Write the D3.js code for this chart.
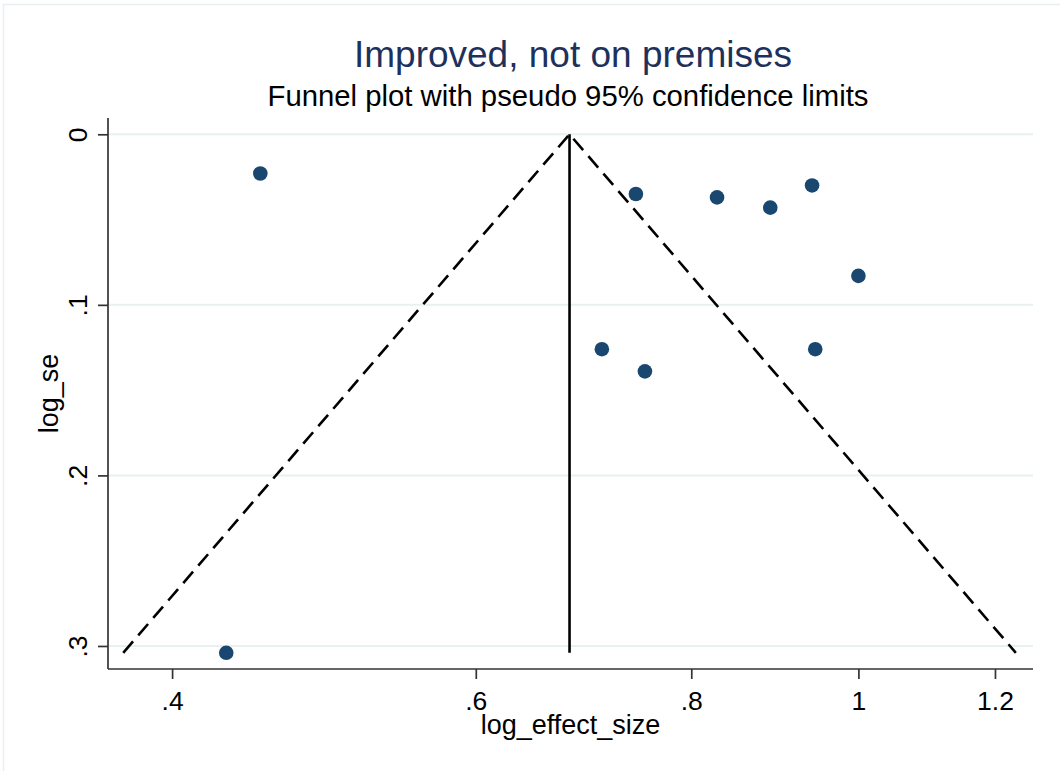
<!DOCTYPE html>
<html>
<head>
<meta charset="utf-8">
<script src="https://cdn.jsdelivr.net/npm/d3@7"></script>
<style>
  html, body { margin: 0; padding: 0; background: #ffffff; }
  svg { display: block; font-family: "Liberation Sans", Arial, sans-serif; }
</style>
</head>
<body>
<svg id="chart" width="1060" height="771"></svg>
<script>
// Study estimates (effect size, shown on a log axis) and their standard errors
const effectSize = [0.450, 0.430, 0.743, 0.828, 0.889, 0.940, 1.000, 0.710, 0.752, 0.944];
const stdError   = [0.023, 0.304, 0.035, 0.037, 0.043, 0.030, 0.083, 0.126, 0.139, 0.126];

// Pooled estimate (apex of the funnel) and the largest standard error
const pooledEffect = 0.680;
const maxStdError = 0.304;

// Axis ticks
const xTickValues = [0.4, 0.6, 0.8, 1, 1.2];
const xTickLabels = [".4", ".6", ".8", "1", "1.2"];
const yTickValues = [0, 0.1, 0.2, 0.3];
const yTickLabels = ["0", ".1", ".2", ".3"];

const titleText = "Improved, not on premises";
const subtitleText = "Funnel plot with pseudo 95% confidence limits";
const xTitle = "log_effect_size";
const yTitle = "log_se";

const svg = d3.select("#chart");
const W = 1060, H = 771;
const plot = { left: 108, right: 1033, top: 118, bottom: 669 };

// outer graph frame
svg.append("rect")
  .attr("x", 3.5).attr("y", 4.5)
  .attr("width", W + 20).attr("height", H + 20)
  .attr("fill", "#ffffff")
  .attr("stroke", "#e8eff1").attr("stroke-width", 1.5);

const x = d3.scaleLog().domain([0.3672, 1.2625]).range([plot.left, plot.right]);
const y = d3.scaleLinear().domain([-0.00955, 0.3135]).range([plot.top, plot.bottom]);

// horizontal gridlines
svg.append("g").selectAll("line")
  .data(yTickValues).join("line")
  .attr("x1", plot.left).attr("x2", plot.right)
  .attr("y1", d => y(d)).attr("y2", d => y(d))
  .attr("stroke", "#e8f0f2").attr("stroke-width", 2);

// y axis: ticks from d3, labels rotated with their baseline toward the axis
const yAxis = d3.axisLeft(y)
  .tickValues(yTickValues)
  .tickFormat((d, i) => yTickLabels[i])
  .tickSize(10);
const gy = svg.append("g").attr("transform", `translate(${plot.left},0)`).call(yAxis);
gy.select(".domain").remove();
gy.append("line")
  .attr("x1", 0).attr("x2", 0).attr("y1", plot.top).attr("y2", plot.bottom)
  .attr("stroke", "#333333").attr("stroke-width", 1.7);
gy.selectAll(".tick line").attr("stroke", "#333333").attr("stroke-width", 1.7);
gy.selectAll(".tick text").remove();
gy.selectAll(".tick").append("text")
  .attr("transform", "translate(-21,0) rotate(-90)")
  .attr("text-anchor", "middle")
  .attr("font-size", 26.5).attr("fill", "#000")
  .text((d, i) => yTickLabels[i]);

// x axis
const xAxis = d3.axisBottom(x)
  .tickValues(xTickValues)
  .tickFormat((d, i) => xTickLabels[i])
  .tickSize(10);
const gx = svg.append("g").attr("transform", `translate(0,${plot.bottom})`).call(xAxis);
gx.select(".domain").remove();
gx.append("line")
  .attr("x1", plot.left).attr("x2", plot.right).attr("y1", 0).attr("y2", 0)
  .attr("stroke", "#333333").attr("stroke-width", 1.7);
gx.selectAll(".tick line").attr("stroke", "#333333").attr("stroke-width", 1.7);
gx.selectAll(".tick text")
  .attr("font-size", 26.5).attr("fill", "#000")
  .attr("y", 41).attr("dy", 0);

// pseudo 95% confidence limits around the pooled estimate
const lowEnd = Math.exp(Math.log(pooledEffect) - 1.96 * maxStdError);
const highEnd = Math.exp(Math.log(pooledEffect) + 1.96 * maxStdError);
const funnel = svg.append("g");
funnel.append("path")
  .attr("d", d3.line()([[x(lowEnd), y(maxStdError)], [x(pooledEffect), y(0)], [x(highEnd), y(maxStdError)]]))
  .attr("fill", "none").attr("stroke", "#000").attr("stroke-width", 2.6)
  .attr("stroke-dasharray", "15,8");
funnel.append("line")
  .attr("x1", x(pooledEffect)).attr("x2", x(pooledEffect))
  .attr("y1", y(0)).attr("y2", y(maxStdError))
  .attr("stroke", "#000").attr("stroke-width", 2.6);

// study points
svg.append("g").selectAll("circle")
  .data(effectSize.map((d, i) => [d, stdError[i]])).join("circle")
  .attr("cx", d => x(d[0])).attr("cy", d => y(d[1]))
  .attr("r", 7.3).attr("fill", "#1a476f");

// titles
svg.append("text")
  .attr("x", 573).attr("y", 67)
  .attr("text-anchor", "middle")
  .attr("font-size", 37).attr("fill", "#1e315c")
  .text(titleText);
svg.append("text")
  .attr("x", 568).attr("y", 106)
  .attr("text-anchor", "middle")
  .attr("font-size", 29.3).attr("fill", "#000")
  .text(subtitleText);
svg.append("text")
  .attr("x", (plot.left + plot.right) / 2).attr("y", 734)
  .attr("text-anchor", "middle")
  .attr("font-size", 27).attr("fill", "#000")
  .text(xTitle);
svg.append("text")
  .attr("transform", `translate(58,${(plot.top + plot.bottom) / 2}) rotate(-90)`)
  .attr("text-anchor", "middle")
  .attr("font-size", 27).attr("fill", "#000")
  .text(yTitle);
</script>
</body>
</html>
